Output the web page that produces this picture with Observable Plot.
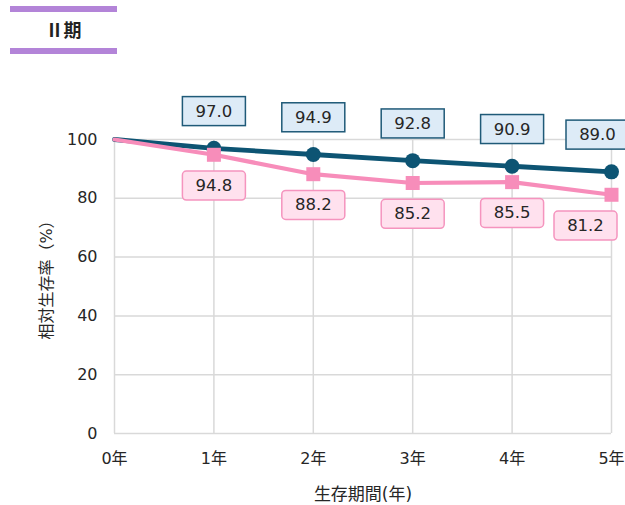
<!DOCTYPE html>
<html><head><meta charset="utf-8">
<script src="https://cdn.jsdelivr.net/npm/d3@7"></script>
<script src="https://cdn.jsdelivr.net/npm/@observablehq/plot@0.6"></script>
<style>
body{margin:0;background:#fff;font-family:'DejaVu Sans','Noto Sans CJK JP',sans-serif;overflow:hidden;}
#header{position:relative;height:60px;width:625px;}
.bar{position:absolute;left:10px;width:107px;height:6px;background:#B384D8;}
#title{position:absolute;left:10px;width:107px;top:18px;text-align:center;font-weight:bold;font-size:18px;color:#222;line-height:22px;font-family:'Noto Sans CJK JP','DejaVu Sans',sans-serif;}
#chart{width:625px;height:445px;overflow:hidden;}
</style></head><body>
<div id="header"><div class="bar" style="top:6px"></div><div id="title"></div><div class="bar" style="top:48px"></div></div>
<div id="chart"></div>
<script>
const titleText = "Ⅱ期";
const years = [0, 1, 2, 3, 4, 5];
const yearLabels = ["0年", "1年", "2年", "3年", "4年", "5年"];
const seriesBlue = [100, 97.0, 94.9, 92.8, 90.9, 89.0];
const seriesPink = [100, 94.8, 88.2, 85.2, 85.5, 81.2];
const yTicks = [0, 20, 40, 60, 80, 100];
const xLabel = "生存期間(年)";
const yLabel = "相対生存率（%）";

document.getElementById("title").textContent = titleText;

const blue = years.map((y, i) => ({year: y, value: seriesBlue[i]}));
const pink = years.map((y, i) => ({year: y, value: seriesPink[i]}));
const BLUE = "#0D5473", PINK = "#F78DBA";

const plot = Plot.plot({
  width: 625, height: 445,
  marginTop: 79, marginRight: 14, marginBottom: 72, marginLeft: 114,
  style: {fontFamily: "'DejaVu Sans','Noto Sans CJK JP',sans-serif", fontSize: "16px", color: "#262626", background: "white", overflow: "visible"},
  x: {domain: [0, 5], ticks: years, tickFormat: d => yearLabels[years.indexOf(d)], tickSize: 0, tickPadding: 19, label: null},
  y: {domain: [0, 100], ticks: yTicks, tickSize: 0, tickPadding: 17, label: null},
  marks: [
    Plot.ruleY(yTicks, {stroke: "#d9d9d9", strokeWidth: 1.5}),
    Plot.ruleX(years, {y1: 0, y2: 100, stroke: "#d9d9d9", strokeWidth: 1.5}),
    Plot.line(blue, {x: "year", y: "value", stroke: BLUE, strokeWidth: 4.8}),
    Plot.dot(blue.slice(1), {x: "year", y: "value", r: 7.5, fill: BLUE}),
    Plot.line(pink, {x: "year", y: "value", stroke: PINK, strokeWidth: 4.2}),
    Plot.dot(pink.slice(1), {x: "year", y: "value", symbol: "square", r: 7.9, fill: PINK}),
    Plot.text(blue.slice(1), {x: "year", y: "value", text: d => d.value.toFixed(1), dy: -37, className: "lbl-blue", fontSize: 16.5, fill: "#262626"}),
    Plot.text(pink.slice(1), {x: "year", y: "value", text: d => d.value.toFixed(1), dy: 31, className: "lbl-pink", fontSize: 16.5, fill: "#262626"}),
    Plot.text([xLabel], {frameAnchor: "bottom", textAnchor: "middle", lineAnchor: "middle", dy: 61, dx: 0, text: d => d, fontSize: 17, fill: "#262626"}),
    Plot.text([yLabel], {frameAnchor: "left", textAnchor: "middle", lineAnchor: "middle", dx: -68, dy: -10.5, rotate: -90, text: d => d, fontSize: 16, fill: "#262626"})
  ]
});
document.getElementById("chart").appendChild(plot);

const svgLeft = plot.getBoundingClientRect().left;
for (const [cls, fill, stroke, rx, maxRight] of [["lbl-blue", "#DDEBF7", "#1F5A78", 0, 629], ["lbl-pink", "#FFE1EE", "#F594BE", 4, 617]]) {
  plot.querySelectorAll(`g.${cls} text`).forEach(t => {
    const b = t.getBBox();
    const w = 63, h = 29;
    const r = document.createElementNS("http://www.w3.org/2000/svg", "rect");
    r.setAttribute("x", b.x + b.width / 2 - w / 2);
    r.setAttribute("y", b.y + b.height / 2 - h / 2);
    r.setAttribute("width", w);
    r.setAttribute("height", h);
    r.setAttribute("rx", rx);
    r.setAttribute("fill", fill);
    r.setAttribute("stroke", stroke);
    r.setAttribute("stroke-width", 1.5);
    const tr = t.getAttribute("transform") || "";
    if (tr) r.setAttribute("transform", tr);
    t.parentNode.insertBefore(r, t);
    const right = r.getBoundingClientRect().left - svgLeft + w;
    if (right > maxRight) {
      const shift = right - maxRight;
      r.setAttribute("transform", `translate(${-shift},0) ${tr}`);
      t.setAttribute("transform", `translate(${-shift},0) ${tr}`);
    }
  });
}
</script>
</body></html>
